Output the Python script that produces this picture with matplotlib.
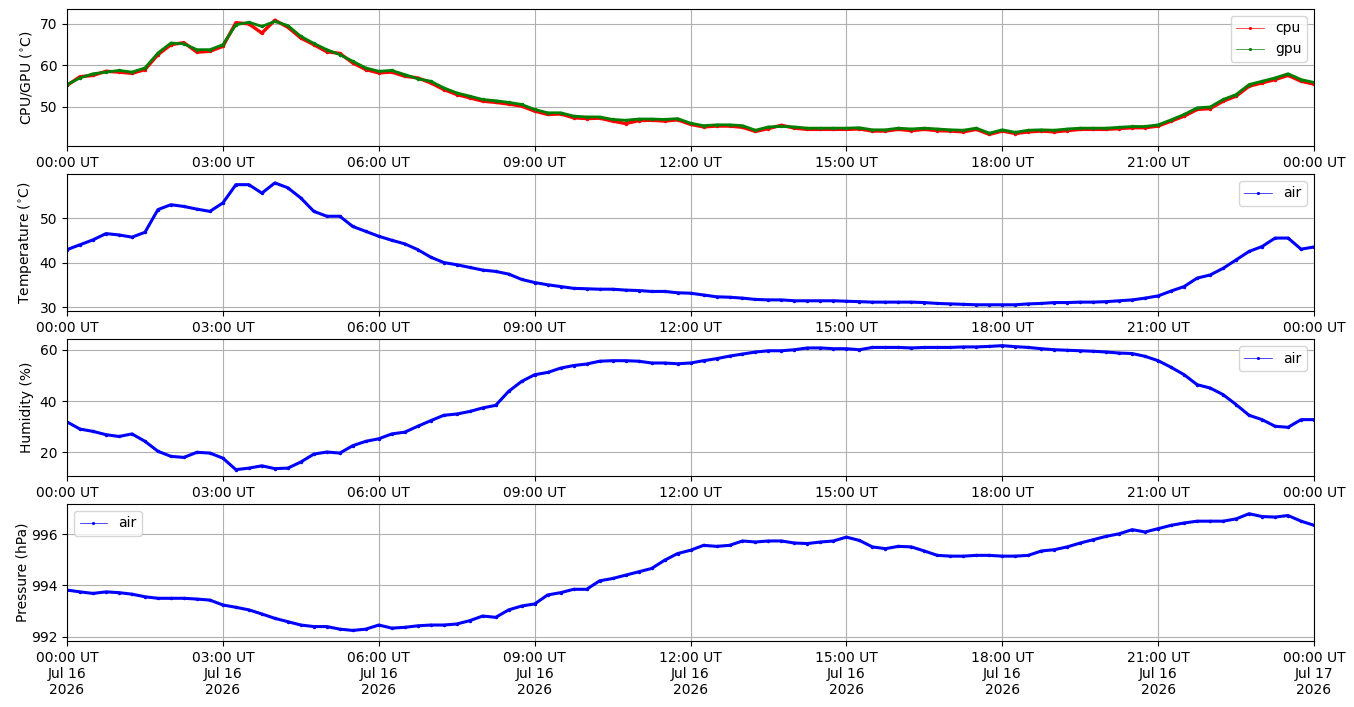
import numpy as np
import pandas as pd
import matplotlib
matplotlib.use('Agg')
import matplotlib.pyplot as plt
import matplotlib.dates as mdates
from matplotlib.lines import Line2D

# readings every 15 minutes, 2026-07-16 00:00 UT .. 2026-07-17 00:00 UT
start = '2026-07-16 00:00'

gpu = [55.4, 57.0, 58.0, 58.4, 58.8, 58.4, 59.4, 63.0, 65.4, 65.2, 63.8, 63.8,
       65.0, 69.8, 70.4, 69.4, 70.6, 69.6, 67.0, 65.3, 63.8, 62.6, 61.0, 59.4,
       58.6, 58.8, 57.8, 56.8, 56.2, 54.6, 53.4, 52.6, 51.8, 51.5, 51.1, 50.6,
       49.4, 48.6, 48.6, 47.8, 47.6, 47.6, 47.0, 46.8, 47.1, 47.1, 47.0, 47.2,
       46.1, 45.5, 45.7, 45.7, 45.5, 44.4, 45.2, 45.3, 45.2, 44.9, 44.9, 44.9,
       44.9, 45.0, 44.5, 44.5, 44.9, 44.7, 44.9, 44.7, 44.5, 44.4, 44.9, 43.7,
       44.5, 43.9, 44.4, 44.5, 44.4, 44.7, 44.9, 44.9, 44.9, 45.1, 45.3, 45.3,
       45.7, 46.9, 48.2, 49.8, 50.0, 51.8, 53.0, 55.4, 56.2, 57.0, 58.0, 56.6,
       55.9]
cpu = [55.2, 57.3, 57.6, 58.6, 58.4, 58.1, 59.0, 62.6, 65.0, 65.5, 63.2, 63.4,
       64.6, 70.3, 70.0, 67.8, 70.9, 69.2, 66.6, 65.0, 63.3, 62.9, 60.6, 59.0,
       58.2, 58.4, 57.4, 57.0, 55.8, 54.2, 53.0, 52.2, 51.4, 51.1, 50.7, 50.2,
       49.0, 48.2, 48.3, 47.4, 47.2, 47.3, 46.6, 46.0, 46.7, 46.8, 46.6, 46.9,
       45.8, 45.2, 45.4, 45.4, 45.1, 44.1, 44.8, 45.6, 44.9, 44.6, 44.6, 44.6,
       44.6, 44.7, 44.2, 44.2, 44.6, 44.3, 44.6, 44.3, 44.2, 44.0, 44.6, 43.4,
       44.2, 43.6, 44.0, 44.2, 44.0, 44.3, 44.6, 44.6, 44.6, 44.8, 45.0, 45.0,
       45.4, 46.6, 47.8, 49.4, 49.6, 51.4, 52.6, 55.0, 55.8, 56.6, 57.6, 56.2,
       55.5]
temperature = [42.9, 44.0, 45.1, 46.5, 46.2, 45.7, 46.8, 51.9, 53.0, 52.6, 52.0, 51.5,
               53.4, 57.5, 57.5, 55.6, 57.9, 56.8, 54.5, 51.5, 50.4, 50.4, 48.1, 47.0,
               45.9, 45.0, 44.2, 42.9, 41.2, 40.0, 39.5, 38.9, 38.3, 38.0, 37.4, 36.2,
               35.5, 35.0, 34.6, 34.2, 34.1, 34.0, 34.0, 33.8, 33.7, 33.5, 33.5, 33.2,
               33.1, 32.7, 32.3, 32.2, 32.0, 31.7, 31.6, 31.6, 31.4, 31.4, 31.4, 31.4,
               31.3, 31.2, 31.1, 31.1, 31.1, 31.1, 31.0, 30.8, 30.7, 30.6, 30.5, 30.5,
               30.5, 30.5, 30.7, 30.8, 31.0, 31.0, 31.1, 31.1, 31.2, 31.4, 31.6, 32.0,
               32.5, 33.6, 34.6, 36.5, 37.2, 38.7, 40.6, 42.5, 43.6, 45.5, 45.5, 43.0,
               43.5]
humidity = [31.8, 29.0, 28.1, 26.8, 26.1, 27.1, 24.2, 20.3, 18.3, 17.9, 19.9, 19.6,
            17.6, 13.1, 13.7, 14.6, 13.5, 13.7, 16.1, 19.2, 20.0, 19.6, 22.5, 24.2,
            25.2, 27.1, 27.8, 30.1, 32.3, 34.4, 34.9, 35.9, 37.3, 38.3, 43.8, 47.7,
            50.3, 51.2, 52.9, 53.9, 54.5, 55.6, 55.8, 55.8, 55.6, 54.9, 54.9, 54.6,
            54.9, 55.8, 56.6, 57.6, 58.4, 59.2, 59.7, 59.7, 60.1, 60.8, 60.8, 60.5,
            60.5, 60.1, 61.0, 61.0, 61.0, 60.8, 61.0, 61.0, 61.0, 61.2, 61.2, 61.4,
            61.7, 61.3, 61.0, 60.5, 60.1, 59.9, 59.7, 59.5, 59.2, 58.8, 58.6, 57.5,
            55.8, 53.2, 50.3, 46.4, 45.1, 42.5, 38.6, 34.4, 32.7, 30.1, 29.7, 32.7,
            32.7]
pressure = [993.82, 993.75, 993.69, 993.75, 993.72, 993.66, 993.56, 993.50, 993.50,
            993.50, 993.47, 993.43, 993.24, 993.15, 993.05, 992.89, 992.72, 992.59,
            992.46, 992.40, 992.40, 992.30, 992.25, 992.30, 992.46, 992.34, 992.37,
            992.43, 992.46, 992.46, 992.50, 992.63, 992.81, 992.76, 993.05, 993.20,
            993.28, 993.63, 993.72, 993.85, 993.85, 994.18, 994.27, 994.40, 994.53,
            994.66, 994.98, 995.24, 995.37, 995.56, 995.52, 995.56, 995.73, 995.69,
            995.73, 995.73, 995.65, 995.63, 995.69, 995.73, 995.88, 995.75, 995.50,
            995.43, 995.52, 995.50, 995.34, 995.17, 995.14, 995.14, 995.17, 995.17,
            995.14, 995.14, 995.17, 995.34, 995.39, 995.50, 995.65, 995.78, 995.91,
            996.01, 996.17, 996.08, 996.21, 996.34, 996.43, 996.50, 996.50, 996.50,
            996.59, 996.79, 996.68, 996.66, 996.72, 996.50, 996.34]


def times_for(values):
    return pd.date_range(start, periods=len(values), freq='15min')


def plot_series(ax, values, color, lw=2.2):
    ax.plot(times_for(values), values, color=color, lw=lw,
            marker='.', ms=3, solid_capstyle='round')


def legend_handle(color):
    return Line2D([], [], color=color, lw=0.5, marker='.', ms=2.5)


fig = plt.figure(figsize=(13.54, 7.07), dpi=100)
left, width, height = 0.0495, 0.921, 0.1938
bottoms = [0.7935, 0.5601, 0.3267, 0.0934]
axes = [fig.add_axes([left, b, width, height]) for b in bottoms]

ax1, ax2, ax3, ax4 = axes

plot_series(ax1, cpu, 'red', lw=2.4)
plot_series(ax1, gpu, 'green', lw=2.0)
ax1.legend([legend_handle('red'), legend_handle('green')], ['cpu', 'gpu'],
           loc='upper right')
ax1.set_ylabel(r'CPU/GPU ($^{\circ}$C)')
ax1.set_ylim(40.6, 73.6)

plot_series(ax2, temperature, 'blue')
ax2.legend([legend_handle('blue')], ['air'], loc='upper right')
ax2.set_ylabel(r'Temperature ($^{\circ}$C)')
ax2.set_ylim(29.1, 59.9)

plot_series(ax3, humidity, 'blue')
ax3.legend([legend_handle('blue')], ['air'], loc='upper right')
ax3.set_ylabel('Humidity (%)')
ax3.set_ylim(10.6, 64.3)

plot_series(ax4, pressure, 'blue', lw=2.2)
ax4.legend([legend_handle('blue')], ['air'], loc='upper left')
ax4.set_ylabel('Pressure (hPa)', labelpad=0.5)
ax4.set_ylim(991.84, 997.17)
ax4.set_yticks([992, 994, 996])

x0 = pd.Timestamp('2026-07-16 00:00')
x1 = pd.Timestamp('2026-07-17 00:00')
for i, ax in enumerate(axes):
    ax.set_xlim(x0, x1)
    ax.xaxis.set_major_locator(mdates.HourLocator(byhour=range(0, 24, 3)))
    if i < 3:
        ax.xaxis.set_major_formatter(mdates.DateFormatter('%H:%M UT'))
    else:
        ax.xaxis.set_major_formatter(mdates.DateFormatter('%H:%M UT\n%b %d\n%Y'))
    ax.grid(True)

fig.savefig('out.png', dpi=100)
